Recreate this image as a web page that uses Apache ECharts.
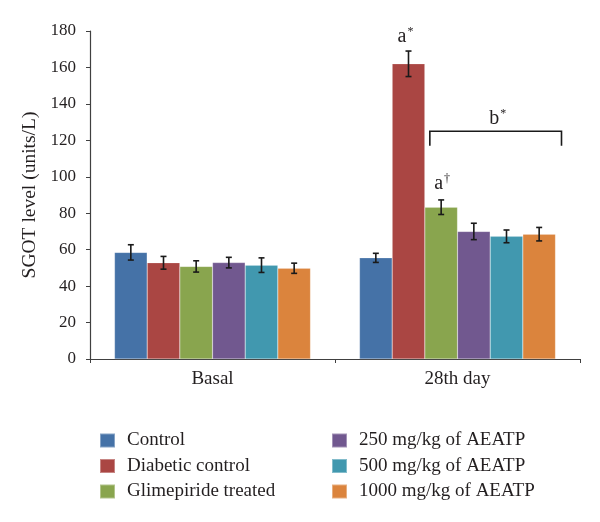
<!DOCTYPE html>
<html>
<head>
<meta charset="utf-8">
<script src="https://cdn.jsdelivr.net/npm/echarts@6/dist/echarts.min.js"></script>
<style>html,body{margin:0;padding:0;background:#fff;}#c{width:600px;height:522px;}</style>
</head>
<body>
<div id="c"></div>
<script>
var categories = ['Basal', '28th day'];
var seriesNames = ['Control', 'Diabetic control', 'Glimepiride treated', '250 mg/kg of AEATP', '500 mg/kg of AEATP', '1000 mg/kg of AEATP'];
var control = [58.5, 55.5];
var diabetic = [52.8, 162];
var glimepiride = [50.8, 83.3];
var aeatp250 = [52.9, 70];
var aeatp500 = [51.5, 67.3];
var aeatp1000 = [49.8, 68.5];
var errControl = [4.2, 2.5];
var errDiabetic = [3.5, 7];
var errGlimepiride = [3.1, 4];
var errAeatp250 = [2.9, 4.5];
var errAeatp500 = [4, 3.5];
var errAeatp1000 = [2.8, 3.7];
var yTicks = [0, 20, 40, 60, 80, 100, 120, 140, 160, 180];
var colors = ['#4572A7', '#AA4643', '#89A54E', '#71588F', '#4198AF', '#DB843D'];

var values = [control, diabetic, glimepiride, aeatp250, aeatp500, aeatp1000];
var errs = [errControl, errDiabetic, errGlimepiride, errAeatp250, errAeatp500, errAeatp1000];
var nS = values.length;
var catGap = 0.2;

var errData = [];
for (var s = 0; s < nS; s++) {
  for (var c = 0; c < categories.length; c++) {
    errData.push([c, s, values[s][c] - errs[s][c], values[s][c] + errs[s][c]]);
  }
}

var FONT = '"Liberation Serif", "DejaVu Serif", serif';
var TXT = '#231f20';

function barX(api, c, s) {
  var band = api.size([1, 0])[0];
  var bw = band * (1 - catGap) / nS;
  var cx = api.coord([c, 0])[0];
  return { x: cx + (s - (nS - 1) / 2) * bw, bw: bw };
}

var series = [];
for (var i = 0; i < nS; i++) {
  series.push({
    name: seriesNames[i],
    type: 'bar',
    data: values[i],
    barGap: '0%',
    barCategoryGap: (catGap * 100) + '%',
    itemStyle: { color: colors[i], borderColor: 'rgba(255,255,255,0.35)', borderWidth: 0.5 },
    silent: true
  });
}

series.push({
  type: 'custom',
  silent: true,
  z: 5,
  data: errData,
  renderItem: function (params, api) {
    var c = api.value(0), s = api.value(1);
    var p = barX(api, c, s);
    var yl = api.coord([c, api.value(2)])[1];
    var yh = api.coord([c, api.value(3)])[1];
    var cap = 3;
    var st = { stroke: '#1a1a1a', lineWidth: 1.6 };
    return { type: 'group', children: [
      { type: 'line', shape: { x1: p.x, y1: yl, x2: p.x, y2: yh }, style: st },
      { type: 'line', shape: { x1: p.x - cap, y1: yh, x2: p.x + cap, y2: yh }, style: st },
      { type: 'line', shape: { x1: p.x - cap, y1: yl, x2: p.x + cap, y2: yl }, style: st }
    ]};
  }
});

// annotations: significance letters and bracket
var bracketTop = 125, bracketEnd = 117;
series.push({
  type: 'custom',
  silent: true,
  z: 6,
  data: [[1]],
  renderItem: function (params, api) {
    var c = 1;
    var pg = barX(api, c, 2), po = barX(api, c, 5), pd = barX(api, c, 1);
    var x1 = pg.x - pg.bw / 2 + 5;
    var x2 = po.x + po.bw / 2 + 6;
    var yt = api.coord([c, bracketTop])[1];
    var ye = api.coord([c, bracketEnd])[1];
    var st = { stroke: '#1a1a1a', lineWidth: 1.6, fill: null };
    var rich = {
      m: { fontFamily: FONT, fontSize: 20, fill: TXT },
      s: { fontFamily: FONT, fontSize: 12, fill: TXT, verticalAlign: 'top', padding: [0, 0, 9, 1] }
    };
    var yd = api.coord([c, diabetic[c] + errDiabetic[c]])[1];
    var yg = api.coord([c, glimepiride[c] + errGlimepiride[c]])[1];
    return { type: 'group', children: [
      { type: 'polyline', shape: { points: [[x1, ye], [x1, yt], [x2, yt], [x2, ye]] }, style: st },
      { type: 'text', x: pd.x - 3, y: yd - 4, style: { text: '{m|a}{s|*}', rich: rich, align: 'center', verticalAlign: 'bottom' } },
      { type: 'text', x: pg.x + 1, y: yg - 6, style: { text: '{m|a}{s|†}', rich: rich, align: 'center', verticalAlign: 'bottom' } },
      { type: 'text', x: (x1 + x2) / 2 + 2, y: yt - 2, style: { text: '{m|b}{s|*}', rich: rich, align: 'center', verticalAlign: 'bottom' } }
    ]};
  }
});

var legendText = { fontFamily: FONT, fontSize: 19, color: TXT, lineHeight: 16, padding: [0, 0, 0, 7] };
var chart = echarts.init(document.getElementById('c'));
chart.setOption({
  animation: false,
  backgroundColor: '#fff',
  grid: { left: 90, right: 20, top: 31, bottom: 163, containLabel: false },
  legend: [
    { data: seriesNames.slice(0, 3), orient: 'vertical', left: 94, top: 426, itemWidth: 15, itemHeight: 14, itemGap: 6.5, icon: 'rect', textStyle: legendText, selectedMode: false },
    { data: seriesNames.slice(3, 6), orient: 'vertical', left: 326, top: 426, itemWidth: 15, itemHeight: 14, itemGap: 6.5, icon: 'rect', textStyle: legendText, selectedMode: false }
  ],
  xAxis: {
    type: 'category',
    data: categories,
    axisLine: { lineStyle: { color: '#404040', width: 1.2 } },
    axisTick: { show: true, length: 4, lineStyle: { color: '#404040' } },
    axisLabel: { fontFamily: FONT, fontSize: 19, color: TXT, margin: 11 }
  },
  yAxis: {
    type: 'value',
    min: yTicks[0],
    max: yTicks[yTicks.length - 1],
    interval: 20,
    name: 'SGOT level (units/L)',
    nameLocation: 'middle',
    nameGap: 42,
    nameTextStyle: { fontFamily: FONT, fontSize: 19.5, color: TXT },
    axisLine: { show: true, lineStyle: { color: '#404040', width: 1.2 } },
    axisTick: { show: true, length: 4, lineStyle: { color: '#404040' } },
    splitLine: { show: false },
    axisLabel: { fontFamily: FONT, fontSize: 17, color: TXT, margin: 14 }
  },
  series: series
});
</script>
</body>
</html>
